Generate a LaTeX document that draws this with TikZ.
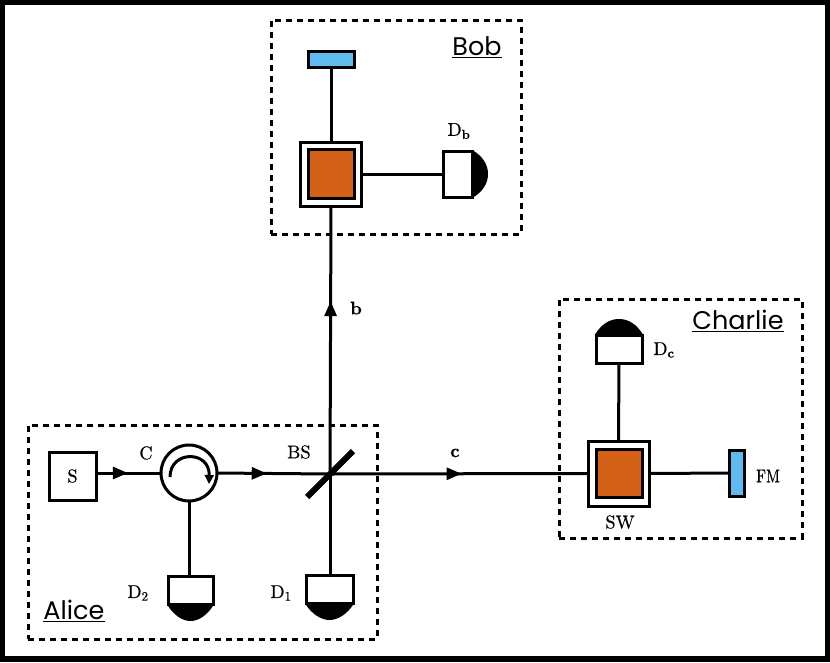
\documentclass[tikz,border=0pt]{standalone}
\usepackage{fontspec}
\newfontfamily\partyfont{Poppins}
\newfontfamily\labfont{lmroman10-regular.otf}[BoldFont=lmroman10-bold.otf,FakeBold=0.4]
\usetikzlibrary{arrows.meta,decorations.markings}
\definecolor{mirrorblue}{HTML}{5FBBEF}
\definecolor{switchorange}{HTML}{D36117}
\tikzset{
  base/.style={outer sep=0pt,inner sep=0pt,line width=3pt,draw=black},
  party/.style={base,rectangle,dash pattern=on 6pt off 5pt},
  conn/.style={line width=3pt},
  flow/.style={conn,postaction={decorate},decoration={markings,mark=at position #1 with {\arrow{Triangle[length=15pt,width=12pt]}}}},
  lab/.style={font=\fontsize{18.5}{20}\selectfont\labfont,inner sep=0pt},
  plab/.style={font=\fontsize{25.5}{27}\selectfont\partyfont,inner sep=0pt},
  detcap/.style={fill=black,draw=black,line width=2pt,line join=round},
}
\begin{document}
\begin{tikzpicture}[x=1pt,y=-1pt]
\useasboundingbox (0,0) rectangle (830,662);
\fill[white] (0,0) rectangle (830,662);
\node[base,rectangle,line width=5.5pt,minimum width=825pt,minimum height=656.5pt] (frame) at (415,330.75) {};
% party boxes
\node[party,minimum width=250pt,minimum height=214pt] (bob) at (396,127) {};
\node[party,minimum width=349pt,minimum height=214pt] (alice) at (202.5,532) {};
\node[party,minimum width=243pt,minimum height=239pt] (charlie) at (680.5,418.5) {};
% Bob
\node[base,fill=mirrorblue,minimum width=46pt,minimum height=16pt] (bm) at (331,59) {};
\node[base,minimum width=61pt,minimum height=64pt] (swb) at (331,174) {};
\node[base,fill=switchorange,minimum width=46pt,minimum height=49pt] (swbin) at (331,173.5) {};
\node[base,fill=white,minimum width=29pt,minimum height=46pt] (db) at (457.5,174) {};
\filldraw[detcap] (db.north east) .. controls +(10,6) and +(0,-9) .. +(15,23) .. controls +(0,9) and +(10,-6) .. (db.south east) -- cycle;
% Alice
\node[base,fill=white,minimum width=47pt,minimum height=48pt] (s) at (72.5,476) {};
\node[base,circle,fill=white,minimum size=56pt] (circ) at (189,473) {};
\draw[conn,-{Triangle[length=9pt,width=9pt]}] (170,477) .. controls (170,450) and (210,450) .. (209,484);
\node[base,fill=white,minimum width=45pt,minimum height=28pt] (d2) at (190.5,590) {};
\filldraw[detcap] (d2.south west) .. controls +(6,10) and +(-8,0) .. +(22.5,16) .. controls +(8,0) and +(-6,10) .. (d2.south east) -- cycle;
\node[base,fill=white,minimum width=47pt,minimum height=28pt] (d1) at (329.5,589) {};
\filldraw[detcap] (d1.south west) .. controls +(6,10) and +(-8,0) .. +(23.5,16) .. controls +(8,0) and +(-6,10) .. (d1.south east) -- cycle;
\node[fill=black,outer sep=0pt,inner sep=0pt,rotate=45,minimum width=65pt,minimum height=6pt] (bs) at (330,474) {};
% Charlie
\node[base,fill=white,minimum width=46pt,minimum height=28pt] (dc) at (619,349) {};
\filldraw[detcap] (dc.north west) .. controls +(6,-10) and +(-9,0) .. +(23,-15) .. controls +(9,0) and +(-6,-10) .. (dc.north east) -- cycle;
\node[base,minimum width=61pt,minimum height=65pt] (swc) at (618.5,473.5) {};
\node[base,fill=switchorange,minimum width=46pt,minimum height=48pt] (swcin) at (619,473) {};
\node[base,fill=mirrorblue,minimum width=15pt,minimum height=46pt] (fm) at (736.5,473) {};
% connectors
\draw[conn] (bm) -- (swb);
\draw[conn] (swb.east) -- (db.west);
\draw[flow=0.645] (bs.center) -- (swb.south);
\draw[flow=0.49] (s.east |- circ.west) -- (circ.west);
\draw[flow=0.44] (circ.east) -- (bs.center);
\draw[conn] (circ.south) -- (circ.south |- d2.north);
\draw[conn] (d1.north -| bs.center) -- (bs.center);
\draw[flow=0.51] (bs.center) -- (swc.west);
\draw[conn] (dc.south) -- (swc.north);
\draw[conn] (swc.east) -- (fm.west);
% labels
\node[lab] (ls) at (72.5,476) {S};
\node[lab] (lc) at (146,453) {C};
\node[lab] (lbs) at (299,452) {BS};
\node[lab] (lb) at (356,308) {\textbf{b}};
\node[lab] (lcc) at (455,453) {\textbf{c}};
\node[lab] (ld2) at (138,593) {D\textsubscript{2}};
\node[lab] (ld1) at (281,593) {D\textsubscript{1}};
\node[lab] (ldb) at (459,131) {D\textsubscript{\textbf{b}}};
\node[lab] (ldc) at (664,350) {D\textsubscript{\textbf{c}}};
\node[lab,xscale=0.82] (lfm) at (768,476) {FM};
\node[lab] (lsw) at (620,522) {SW};
\node[plab] (lalice) at (74,611) {\underline{Alice}};
\node[plab] (lbob) at (477,47) {\underline{Bob}};
\node[plab] (lcharlie) at (738,321) {\underline{Charlie}};
\end{tikzpicture}
\end{document}
